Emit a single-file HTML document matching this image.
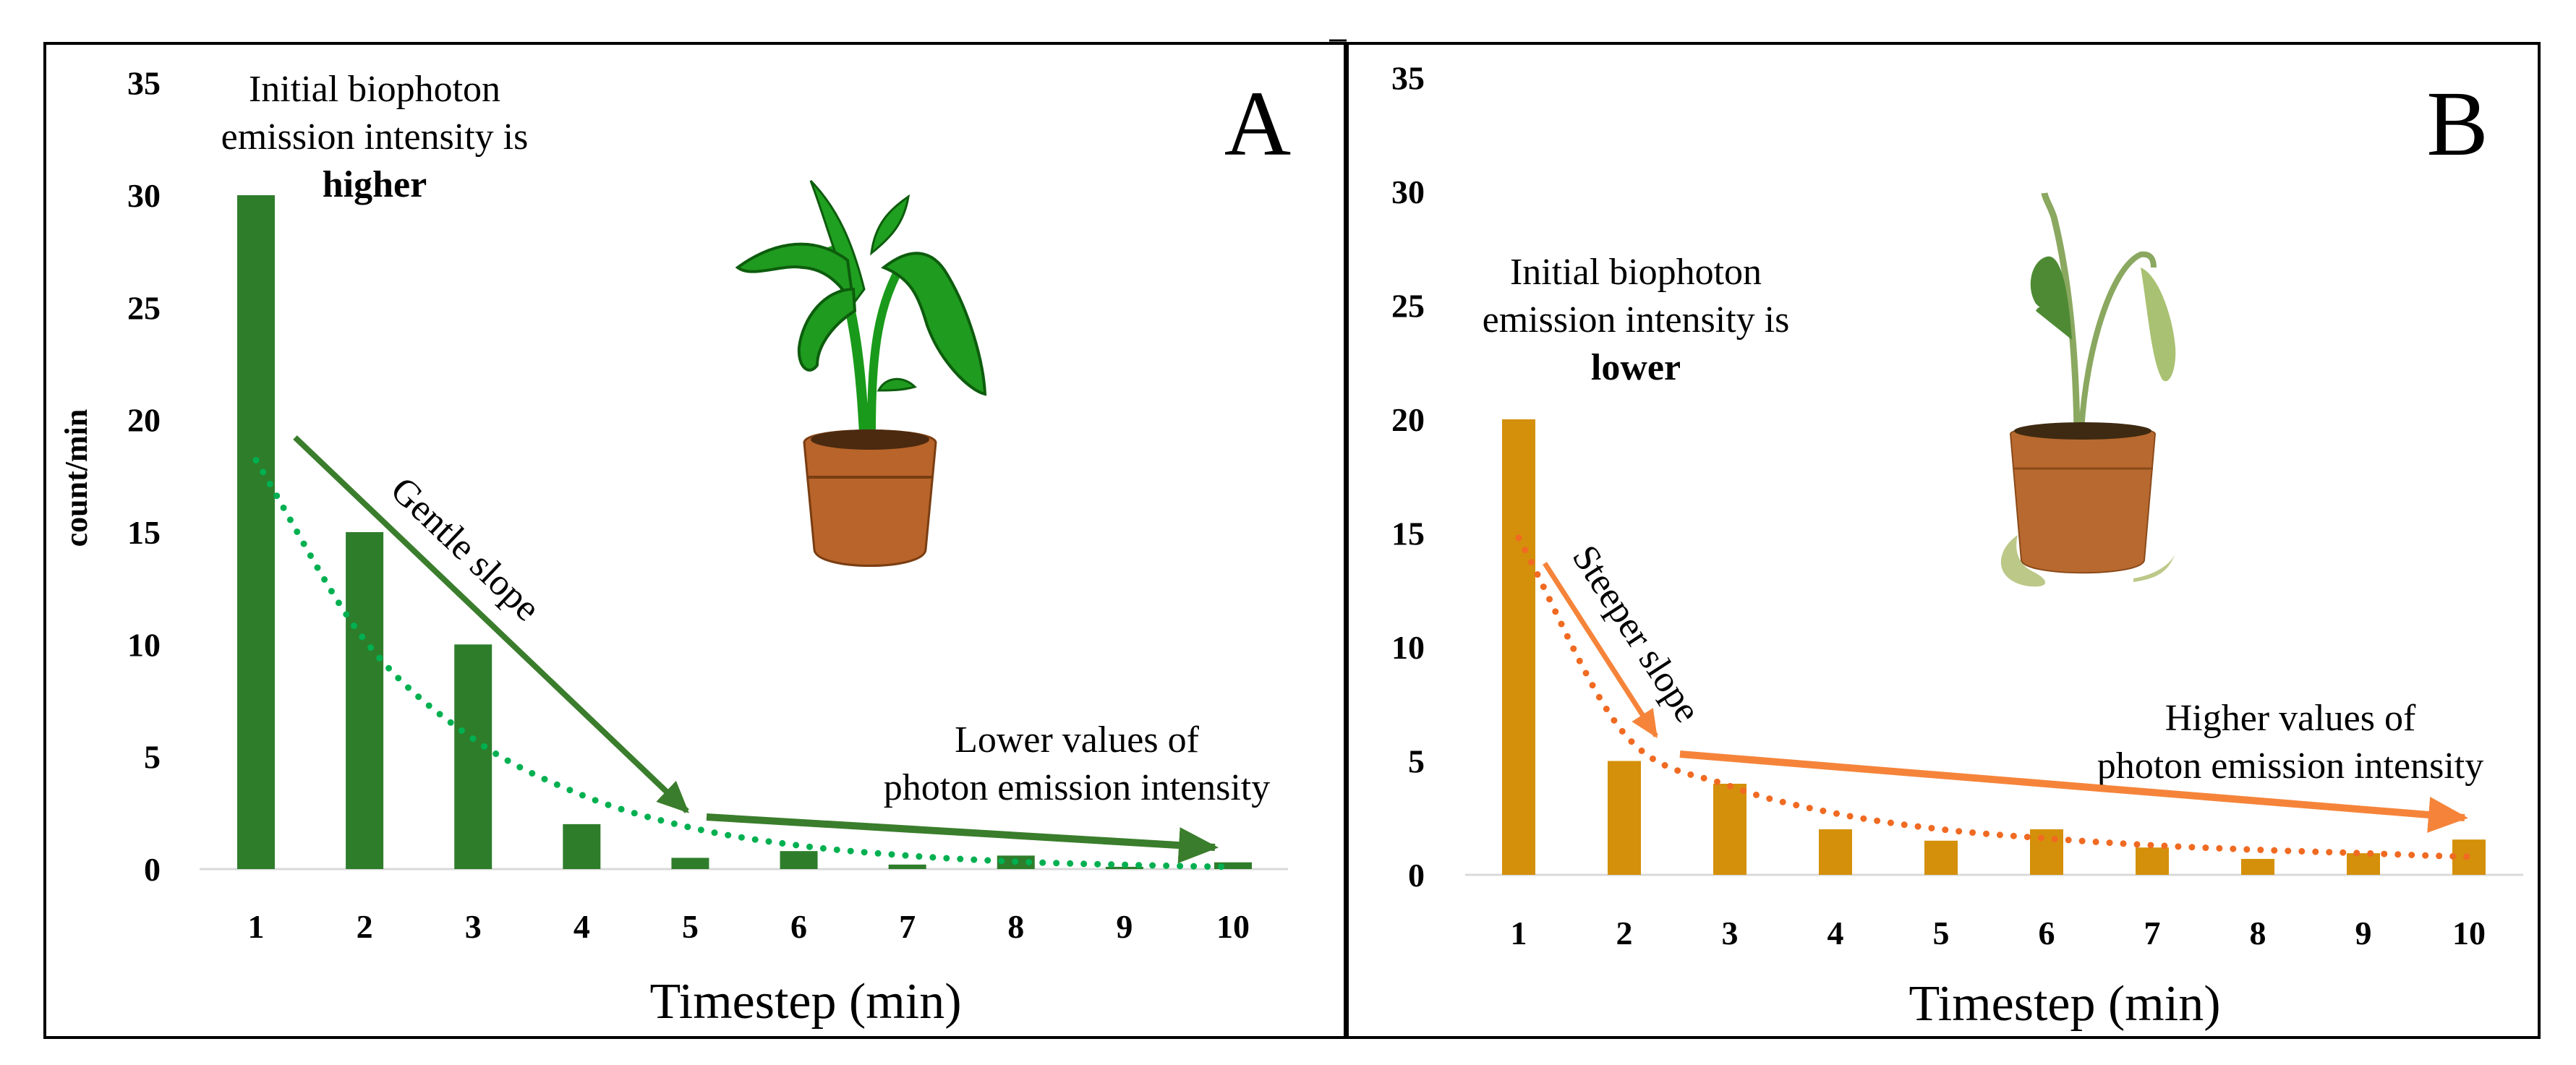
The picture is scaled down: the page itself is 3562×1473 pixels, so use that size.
<!DOCTYPE html>
<html><head><meta charset="utf-8"><style>
html,body{margin:0;padding:0;background:#fff;}
svg{display:block;}
text{font-family:"Liberation Serif",serif;fill:#000;}
</style></head><body>
<svg id="fig" width="3562" height="1473" viewBox="0 0 3562 1473" xmlns="http://www.w3.org/2000/svg">
<defs>
<marker id="agreen" markerWidth="6" markerHeight="6" refX="5" refY="3" orient="auto" markerUnits="strokeWidth"><path d="M0,0.5 L5.5,3 L0,5.5 z" fill="#3a7d2c"/></marker>
<marker id="aorange" markerWidth="6" markerHeight="6" refX="5" refY="3" orient="auto" markerUnits="strokeWidth"><path d="M0,0.5 L5.5,3 L0,5.5 z" fill="#f5843a"/></marker>
</defs>
<rect x="62" y="60" width="1801" height="1375" fill="none" stroke="#000" stroke-width="4"/>
<rect x="1860" y="60" width="1651" height="1375" fill="none" stroke="#000" stroke-width="4"/>
<line x1="1838" y1="56" x2="1862" y2="56" stroke="#000" stroke-width="3"/>

<g>
<path d="M1195,600 C1190,500 1180,420 1150,340" stroke="#1a9a1a" stroke-width="14" fill="none"/>
<path d="M1205,600 C1205,480 1215,420 1250,360" stroke="#1a9a1a" stroke-width="12" fill="none"/>
<path d="M1180,420 C1150,340 1140,300 1121,250 C1160,290 1180,340 1195,400 Z" fill="#20a020" stroke="#0d5d0d" stroke-width="3"/>
<path d="M1205,350 C1210,310 1230,290 1256,272 C1250,310 1230,330 1205,350 Z" fill="#20a020" stroke="#0d5d0d" stroke-width="3"/>
<path d="M1172,360 C1120,320 1060,340 1020,370 C1040,385 1080,365 1110,370 C1140,372 1160,390 1180,420 Z" fill="#1f9b1f" stroke="#0d5d0d" stroke-width="4"/>
<path d="M1180,400 C1140,400 1110,440 1105,480 C1103,510 1120,520 1130,505 C1130,480 1150,450 1182,430 Z" fill="#1f9b1f" stroke="#0d5d0d" stroke-width="4"/>
<path d="M1222,370 C1260,340 1290,345 1310,380 C1340,430 1360,500 1362,545 C1340,540 1300,500 1282,450 C1270,410 1260,385 1222,370 Z" fill="#1f9b1f" stroke="#0d5d0d" stroke-width="4"/>
<path d="M1215,540 C1225,520 1250,520 1265,535 C1248,540 1230,540 1215,540 Z" fill="#1f9b1f" stroke="#0d5d0d" stroke-width="3"/>
<path d="M1112,612 C1112,590 1292,590 1294,612 L1280,760 C1278,790 1128,790 1126,760 Z" fill="#b8642a" stroke="#7a3d12" stroke-width="3"/>
<ellipse cx="1203" cy="608" rx="82" ry="14" fill="#4b2a10"/>
<line x1="1118" y1="660" x2="1290" y2="660" stroke="#7a3d12" stroke-width="4"/>
</g>

<g>
<path d="M2872,595 C2870,480 2860,380 2840,300 C2835,285 2828,275 2827,267" stroke="#8aa860" stroke-width="9" fill="none"/>
<path d="M2878,595 C2885,480 2920,370 2960,352 C2975,350 2978,360 2978,370" stroke="#8aa860" stroke-width="8" fill="none"/>
<path d="M2865,470 C2860,400 2850,350 2830,355 C2810,360 2800,395 2815,420 C2825,430 2820,420 2815,430 Z" fill="#4e8a34"/>
<path d="M2960,370 C2985,380 3005,440 3008,480 C3010,510 3000,535 2990,525 C2975,500 2970,430 2960,370 Z" fill="#a9c172"/>
<path d="M2780,600 C2782,585 2978,585 2980,600 L2965,775 C2960,798 2800,798 2795,775 Z" fill="#b8692f" stroke="#8a4a1a" stroke-width="2"/>
<ellipse cx="2880" cy="596" rx="95" ry="12" fill="#3e2a12"/>
<line x1="2785" y1="648" x2="2977" y2="648" stroke="#8a4a1a" stroke-width="3"/>
<path d="M2790,740 C2760,760 2755,800 2800,810 C2830,815 2840,805 2810,790 C2790,780 2785,760 2790,740 Z" fill="#bcc888"/>
<path d="M2950,800 C2980,795 3005,780 3010,760 C3000,790 2985,800 2950,805 Z" fill="#bcc888"/>
</g>

<g id="chartA"></g>
<g id="chartB"></g>

<g font-size="52" text-anchor="middle">
<text x="518" y="140">Initial biophoton</text>
<text x="518" y="206">emission intensity is</text>
<text x="518" y="272" font-weight="bold">higher</text>
<text x="1489" y="1040">Lower values of</text>
<text x="1489" y="1106">photon emission intensity</text>
<text transform="translate(643,760) rotate(43.6)" y="16">Gentle slope</text>
<text x="1739" y="214" font-size="128">A</text>
<line x1="408" y1="605" x2="950" y2="1122" stroke="#3a7d2c" stroke-width="8" marker-end="url(#agreen)"/>
<line x1="977" y1="1130" x2="1680" y2="1172" stroke="#3a7d2c" stroke-width="10" marker-end="url(#agreen)"/>
</g>
<g font-size="52" text-anchor="middle">
<text x="2262" y="393">Initial biophoton</text>
<text x="2262" y="459">emission intensity is</text>
<text x="2262" y="525" font-weight="bold">lower</text>
<text x="3167" y="1010">Higher values of</text>
<text x="3167" y="1076">photon emission intensity</text>
<text transform="translate(2262,877) rotate(57)" y="16">Steeper slope</text>
<text x="3398" y="214" font-size="128">B</text>
<line x1="2136" y1="779" x2="2290" y2="1018" stroke="#f5843a" stroke-width="7" marker-end="url(#aorange)"/>
<line x1="2323" y1="1043" x2="3408" y2="1131" stroke="#f5843a" stroke-width="10" marker-end="url(#aorange)"/>
</g>
</svg>
<script>
const categories = [1,2,3,4,5,6,7,8,9,10];
const yTicks = [0,5,10,15,20,25,30,35];
const valuesA = [30,15,10,2,0.5,0.8,0.2,0.6,0.1,0.3];
const trendA = [18.2,10.2,5.8,3.3,1.85,1.05,0.6,0.33,0.19,0.1];
const valuesB = [20,5,4,2,1.5,2,1.2,0.7,0.95,1.55];
const trendB = [14.8,6.2,3.9,2.7,2.0,1.6,1.3,1.1,0.95,0.8];
const NS = 'http://www.w3.org/2000/svg';
function mk(parent, tag, attrs){const e=document.createElementNS(NS,tag);for(const k in attrs)e.setAttribute(k,attrs[k]);parent.appendChild(e);return e;}
function drawPanel(cfg){
  const g=document.getElementById(cfg.id);
  const y=v=>cfg.y0-(cfg.y0-cfg.y30)*v/30;
  const x=c=>cfg.x1+(cfg.x10-cfg.x1)*(c-1)/9;
  const axis=mk(g,'line',{x1:cfg.ax0,x2:cfg.ax1,y1:cfg.y0,y2:cfg.y0,stroke:'#d9d9d9','stroke-width':3});
  
  
  yTicks.forEach(t=>{
    const tx=mk(g,'text',{x:cfg.tickX,y:y(t)+16,'text-anchor':'end','font-size':46,'font-weight':'bold'});
    tx.textContent=t;
    
    
  });
  categories.forEach((c,i)=>{
    const v=cfg.vals[i];
    const r=mk(g,'rect',{x:x(c)-cfg.bw/2,y:y(v),width:cfg.bw,height:cfg.y0-y(v),fill:cfg.color});
    
    
    const tx=mk(g,'text',{x:x(c),y:cfg.xLabY+16,'text-anchor':'middle','font-size':46,'font-weight':'bold'});
    tx.textContent=c;
    
    
  });
  let d='';
  categories.forEach((c,i)=>{
    const px=x(c),py=y(cfg.trend[i]);
    if(i===0){d+='M'+px+','+py;}
    else{const pc=categories[i-1],pxp=x(pc),pyp=y(cfg.trend[i-1]);
      const ppy=i>1?y(cfg.trend[i-2]):pyp+(pyp-py);
      const npy=i<categories.length-1?y(cfg.trend[i+1]):py;
      const c1y=pyp+(py-ppy)/6, c2y=py-(npy-pyp)/6;
      d+=' C'+(pxp+(px-pxp)/3)+','+c1y+' '+(px-(px-pxp)/3)+','+c2y+' '+px+','+py;}
  });
  const p=mk(g,'path',{d:d,fill:'none',stroke:cfg.tcolor,'stroke-width':9,'stroke-dasharray':'0 19','stroke-linecap':'round'});
  
  
  const t=mk(g,'text',{x:cfg.titleX,y:cfg.titleY,'text-anchor':'middle','font-size':70});
  t.textContent='Timestep (min)';
  
  
}
drawPanel({id:'chartA',vals:valuesA,trend:trendA,color:'#2e7d2b',tcolor:'#00b050',y0:1202,y30:270,x1:354,x10:1705,bw:52,ax0:276,ax1:1781,tickX:222,xLabY:1281,titleX:1114,titleY:1408});
drawPanel({id:'chartB',vals:valuesB,trend:trendB,color:'#d4900a',tcolor:'#f06a22',y0:1210,y30:265,x1:2100,x10:3414,bw:46,ax0:2026,ax1:3489,tickX:1970,xLabY:1290,titleX:2855,titleY:1411});
const yt=document.createElementNS(NS,'text');
yt.setAttribute('transform','translate(120,661) rotate(-90)');
yt.setAttribute('text-anchor','middle');yt.setAttribute('font-size','44');yt.setAttribute('font-weight','bold');
yt.textContent='count/min';


document.getElementById('chartA').appendChild(yt);
</script>
</body></html>
